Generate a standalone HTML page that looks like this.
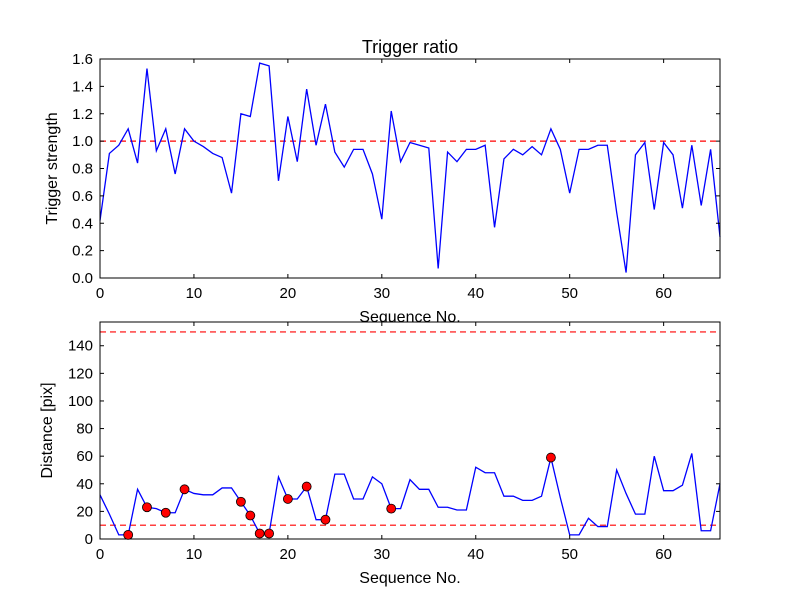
<!DOCTYPE html>
<html><head><meta charset="utf-8"><style>body{margin:0;background:#fff}svg{display:block;font-family:"Liberation Sans",sans-serif}</style></head>
<body>
<svg id="c" width="800" height="600"></svg>
<script>
const seq = Array.from({length:67},(_,i)=>i);
const strength = [0.42,0.91,0.97,1.09,0.84,1.53,0.93,1.09,0.76,1.09,1.0,0.96,0.91,0.88,0.62,1.2,1.18,1.57,1.55,0.71,1.18,0.85,1.38,0.97,1.27,0.92,0.81,0.94,0.94,0.76,0.43,1.22,0.85,0.99,0.97,0.95,0.07,0.92,0.85,0.94,0.94,0.97,0.37,0.87,0.94,0.9,0.96,0.9,1.09,0.94,0.62,0.94,0.94,0.97,0.97,0.48,0.04,0.9,0.99,0.5,0.99,0.9,0.51,0.97,0.53,0.94,0.3];
const distance = [32,18,3,3,36,23,22,19,19,36,33,32,32,37,37,27,17,4,4,45,29,29,38,14,14,47,47,29,29,45,40,22,22,43,36,36,23,23,21,21,52,48,48,31,31,28,28,31,59,30,3,3,15,9,9,50,33,18,18,60,35,35,39,62,6,6,40];
const markerIdx = [3,5,7,9,15,16,17,18,20,22,24,31,48];
const topTicks = [0,0.2,0.4,0.6,0.8,1.0,1.2,1.4,1.6];
const botTicks = [0,20,40,60,80,100,120,140];
const xTicks = [0,10,20,30,40,50,60];
const topThresh = [1.0];
const botThresh = [10,150];

const svg=document.getElementById('c');const NS='http://www.w3.org/2000/svg';
function mk(t,a,p){const e=document.createElementNS(NS,t);for(const k in a)e.setAttribute(k,a[k]);(p||svg).appendChild(e);return e;}
const L=100,R=720;
const xs=v=>L+(v-0)/66*(R-L);
function panel(name,top,bot,ymax,ticks,fmt,vals,thr,ylabel,title){
  const ys=v=>bot-v/ymax*(bot-top);
  const g=mk('g',{});
  
  
  mk('rect',{x:L,y:top,width:R-L,height:bot-top,fill:'#fff'},g);
  thr.forEach(t=>{const l=mk('line',{x1:L,x2:R,y1:ys(t),y2:ys(t),stroke:'#f00','stroke-width':1.2,'stroke-dasharray':'6,4'},g);
    });
  const p=mk('polyline',{points:vals.map((v,i)=>xs(seq[i])+','+ys(v)).join(' '),fill:'none',stroke:'#00f','stroke-width':1.3},g);
  
  ticks.forEach(t=>{const y=ys(t);mk('line',{x1:L,x2:L+4,y1:y,y2:y,stroke:'#000'},g);mk('line',{x1:R,x2:R-4,y1:y,y2:y,stroke:'#000'},g);
    const tx=mk('text',{x:L-7,y:y+5,'text-anchor':'end','font-size':15},g);tx.textContent=fmt(t);
    });
  xTicks.forEach(t=>{const x=xs(t);mk('line',{x1:x,x2:x,y1:bot,y2:bot-4,stroke:'#000'},g);mk('line',{x1:x,x2:x,y1:top,y2:top+4,stroke:'#000'},g);
    const tx=mk('text',{x:x,y:bot+20,'text-anchor':'middle','font-size':15},g);tx.textContent=t;
    });
  mk('rect',{x:L,y:top,width:R-L,height:bot-top,fill:'none',stroke:'#000','stroke-width':1},g);
  const xl=mk('text',{x:410,y:bot+44,'text-anchor':'middle','font-size':16},g);xl.textContent='Sequence No.';
  
  const cy=(top+bot)/2;
  const yl=mk('text',{x:0,y:0,'text-anchor':'middle','font-size':16,transform:`translate(${name==='top-panel'?57:52},${cy}) rotate(-90)`},g);yl.textContent=ylabel;
  
  if(title){const tt=mk('text',{x:410,y:top-6,'text-anchor':'middle','font-size':18},g);tt.textContent=title;
    }
  return ys;
}
panel('top-panel',59,278,1.6,topTicks,v=>v.toFixed(1),strength,topThresh,'Trigger strength','Trigger ratio');
const ys2=panel('bottom-panel',322,539,157.2,botTicks,v=>String(v),distance,botThresh,'Distance [pix]',null);
markerIdx.forEach(i=>{const c=mk('circle',{cx:xs(seq[i]),cy:ys2(distance[i]),r:4.5,fill:'#f00',stroke:'#000','stroke-width':0.8});
  });
</script>
</body></html>
